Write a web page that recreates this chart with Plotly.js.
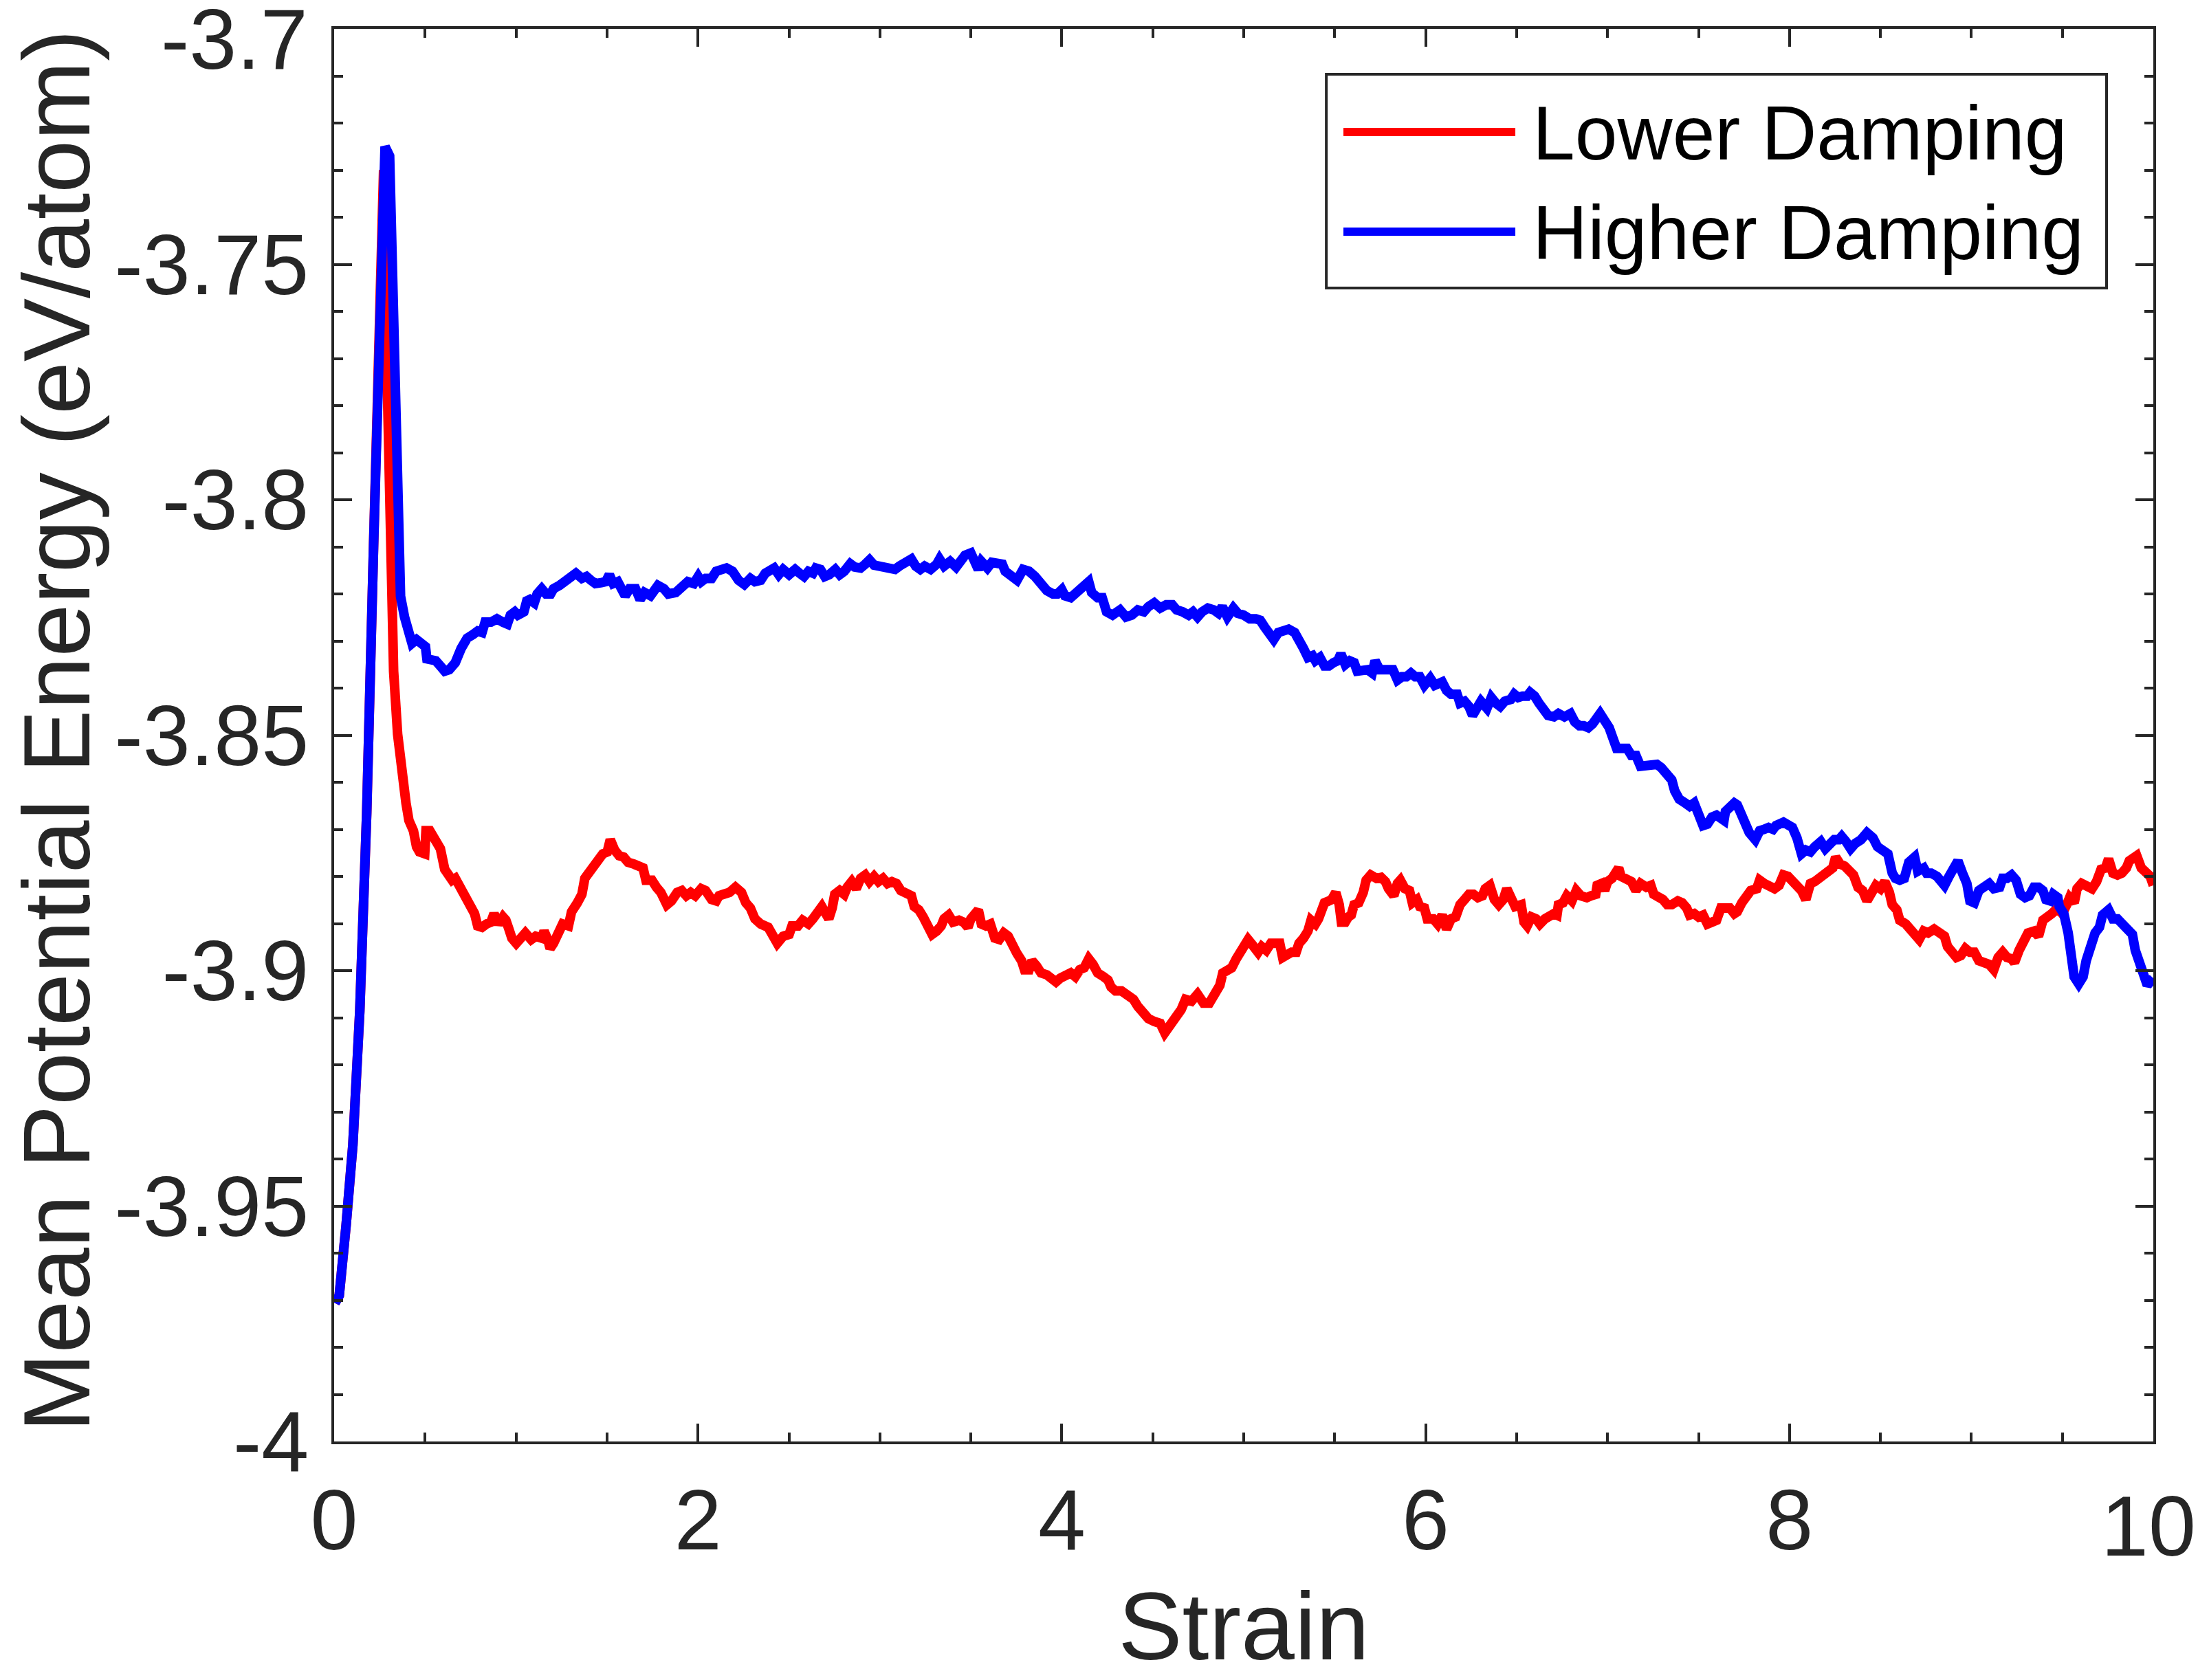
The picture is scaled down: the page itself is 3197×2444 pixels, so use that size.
<!DOCTYPE html>
<html>
<head>
<meta charset="utf-8">
<script src="https://cdn.plot.ly/plotly-3.0.1.min.js"></script>
<style>
html,body{margin:0;padding:0;background:#fff;}
#chart{width:3197px;height:2444px;}
</style>
</head>
<body>
<div id="chart"></div>
<script>
// ---- data ----
const seriesNames = ["Lower Damping", "Higher Damping"];
const seriesColors = ["#ff0000", "#0000ff"];

const strainLow = [0.005,0.028,0.066,0.103,0.141,0.179,0.217,0.248,0.272,0.285,0.292,0.302,0.311,0.327,0.349,0.371,0.395,0.411,0.436,0.453,0.469,0.498,0.505,0.526,0.551,0.584,0.608,0.625,0.649,0.666,0.682,0.698,0.731,0.756,0.772,0.789,0.813,0.838,0.862,0.879,0.903,0.928,0.944,0.961,0.977,1.001,1.026,1.051,1.083,1.108,1.141,1.154,1.174,1.187,1.206,1.231,1.256,1.288,1.305,1.337,1.362,1.378,1.411,1.436,1.452,1.477,1.501,1.518,1.542,1.567,1.592,1.616,1.649,1.682,1.698,1.714,1.747,1.772,1.796,1.829,1.854,1.886,1.911,1.936,1.960,1.985,2.018,2.042,2.075,2.100,2.116,2.140,2.173,2.206,2.239,2.263,2.288,2.313,2.345,2.386,2.411,2.436,2.468,2.501,2.517,2.550,2.575,2.607,2.632,2.656,2.681,2.697,2.719,2.738,2.752,2.779,2.804,2.820,2.845,2.870,2.894,2.919,2.943,2.968,2.992,3.017,3.042,3.066,3.091,3.115,3.148,3.173,3.189,3.214,3.238,3.263,3.287,3.312,3.337,3.353,3.378,3.402,3.435,3.460,3.484,3.500,3.525,3.541,3.558,3.582,3.607,3.632,3.656,3.681,3.705,3.730,3.754,3.779,3.795,3.820,3.836,3.861,3.886,3.918,3.943,3.968,3.992,4.017,4.049,4.074,4.099,4.123,4.148,4.172,4.197,4.230,4.254,4.271,4.295,4.328,4.361,4.394,4.418,4.443,4.476,4.508,4.541,4.566,4.590,4.623,4.656,4.680,4.713,4.746,4.779,4.811,4.836,4.869,4.885,4.910,4.934,4.959,4.992,5.024,5.049,5.079,5.099,5.124,5.149,5.173,5.198,5.214,5.239,5.263,5.288,5.304,5.329,5.353,5.370,5.394,5.411,5.427,5.444,5.468,5.484,5.506,5.525,5.537,5.558,5.575,5.591,5.607,5.632,5.657,5.673,5.698,5.730,5.755,5.779,5.796,5.825,5.845,5.861,5.886,5.911,5.927,5.952,5.968,5.993,6.009,6.042,6.066,6.091,6.115,6.140,6.165,6.189,6.214,6.238,6.263,6.287,6.312,6.328,6.353,6.378,6.402,6.427,6.446,6.468,6.492,6.525,6.541,6.558,6.582,6.607,6.628,6.656,6.681,6.705,6.722,6.730,6.755,6.776,6.804,6.828,6.853,6.886,6.910,6.935,6.943,6.968,6.984,7.000,7.025,7.041,7.061,7.074,7.107,7.131,7.156,7.181,7.213,7.238,7.254,7.279,7.304,7.328,7.353,7.386,7.410,7.435,7.451,7.476,7.500,7.525,7.549,7.574,7.599,7.623,7.648,7.672,7.697,7.713,7.738,7.762,7.787,7.820,7.836,7.861,7.894,7.918,7.943,7.967,7.992,8.016,8.041,8.066,8.090,8.115,8.139,8.164,8.189,8.213,8.238,8.254,8.279,8.303,8.328,8.352,8.377,8.402,8.426,8.451,8.475,8.500,8.524,8.549,8.565,8.590,8.606,8.639,8.664,8.688,8.713,8.738,8.762,8.795,8.828,8.852,8.869,8.893,8.918,8.942,8.967,8.992,9.016,9.041,9.065,9.098,9.123,9.147,9.172,9.196,9.221,9.237,9.262,9.287,9.311,9.344,9.369,9.393,9.418,9.442,9.475,9.500,9.524,9.540,9.565,9.581,9.606,9.639,9.663,9.688,9.713,9.737,9.754,9.778,9.803,9.827,9.852,9.868,9.893,9.909,9.934,9.958,9.983,10.000];
const energyLow = [-3.9706,-3.9690,-3.9540,-3.9370,-3.9086,-3.8666,-3.8096,-3.7576,-3.7300,-3.7626,-3.7790,-3.7995,-3.8163,-3.8364,-3.8498,-3.8584,-3.8644,-3.8681,-3.8703,-3.8737,-3.8748,-3.8752,-3.8703,-3.8703,-3.8718,-3.8741,-3.8785,-3.8797,-3.8808,-3.8804,-3.8815,-3.8834,-3.8849,-3.8867,-3.8879,-3.8905,-3.8908,-3.8901,-3.8897,-3.8879,-3.8901,-3.8886,-3.8893,-3.8912,-3.8931,-3.8942,-3.8931,-3.8920,-3.8934,-3.8927,-3.8931,-3.8916,-3.8934,-3.8953,-3.8942,-3.8920,-3.8901,-3.8905,-3.8875,-3.8856,-3.8838,-3.8804,-3.8785,-3.8774,-3.8763,-3.8752,-3.8748,-3.8722,-3.8744,-3.8756,-3.8759,-3.8770,-3.8774,-3.8782,-3.8782,-3.8808,-3.8808,-3.8823,-3.8834,-3.8860,-3.8852,-3.8834,-3.8830,-3.8841,-3.8834,-3.8841,-3.8826,-3.8830,-3.8849,-3.8852,-3.8841,-3.8838,-3.8834,-3.8823,-3.8834,-3.8856,-3.8867,-3.8890,-3.8901,-3.8908,-3.8927,-3.8942,-3.8927,-3.8923,-3.8905,-3.8905,-3.8893,-3.8901,-3.8890,-3.8879,-3.8864,-3.8875,-3.8890,-3.8867,-3.8838,-3.8830,-3.8838,-3.8823,-3.8811,-3.8826,-3.8804,-3.8797,-3.8811,-3.8800,-3.8811,-3.8804,-3.8815,-3.8811,-3.8815,-3.8830,-3.8834,-3.8841,-3.8864,-3.8871,-3.8886,-3.8912,-3.8923,-3.8916,-3.8905,-3.8890,-3.8882,-3.8897,-3.8893,-3.8897,-3.8908,-3.8890,-3.8879,-3.8871,-3.8901,-3.8905,-3.8901,-3.8931,-3.8934,-3.8920,-3.8927,-3.8949,-3.8964,-3.8979,-3.8998,-3.8998,-3.8979,-3.8990,-3.9005,-3.9009,-3.9016,-3.9024,-3.9016,-3.9009,-3.9005,-3.9013,-3.8998,-3.8994,-3.8975,-3.8987,-3.9005,-3.9013,-3.9020,-3.9035,-3.9043,-3.9043,-3.9050,-3.9061,-3.9076,-3.9091,-3.9102,-3.9108,-3.9112,-3.9132,-3.9121,-3.9102,-3.9083,-3.9061,-3.9065,-3.9050,-3.9069,-3.9069,-3.9054,-3.9031,-3.9005,-3.8998,-3.8994,-3.8975,-3.8949,-3.8934,-3.8946,-3.8961,-3.8949,-3.8957,-3.8942,-3.8942,-3.8942,-3.8972,-3.8964,-3.8961,-3.8961,-3.8942,-3.8931,-3.8916,-3.8893,-3.8901,-3.8890,-3.8867,-3.8856,-3.8852,-3.8849,-3.8834,-3.8860,-3.8897,-3.8897,-3.8886,-3.8882,-3.8860,-3.8856,-3.8834,-3.8808,-3.8797,-3.8804,-3.8802,-3.8811,-3.8826,-3.8841,-3.8815,-3.8808,-3.8826,-3.8830,-3.8856,-3.8849,-3.8864,-3.8867,-3.8890,-3.8890,-3.8901,-3.8882,-3.8912,-3.8890,-3.8886,-3.8860,-3.8849,-3.8838,-3.8838,-3.8845,-3.8841,-3.8826,-3.8819,-3.8849,-3.8860,-3.8849,-3.8826,-3.8852,-3.8864,-3.8860,-3.8897,-3.8905,-3.8886,-3.8890,-3.8901,-3.8890,-3.8882,-3.8879,-3.8882,-3.8860,-3.8856,-3.8841,-3.8852,-3.8830,-3.8841,-3.8845,-3.8841,-3.8838,-3.8819,-3.8815,-3.8830,-3.8811,-3.8804,-3.8793,-3.8782,-3.8800,-3.8808,-3.8811,-3.8830,-3.8815,-3.8823,-3.8819,-3.8838,-3.8841,-3.8849,-3.8860,-3.8860,-3.8852,-3.8856,-3.8867,-3.8882,-3.8879,-3.8886,-3.8882,-3.8901,-3.8897,-3.8893,-3.8867,-3.8867,-3.8867,-3.8879,-3.8875,-3.8856,-3.8838,-3.8830,-3.8826,-3.8808,-3.8815,-3.8823,-3.8826,-3.8819,-3.8797,-3.8800,-3.8808,-3.8819,-3.8830,-3.8849,-3.8815,-3.8811,-3.8804,-3.8800,-3.8789,-3.8782,-3.8759,-3.8774,-3.8778,-3.8785,-3.8797,-3.8823,-3.8830,-3.8852,-3.8830,-3.8819,-3.8826,-3.8811,-3.8834,-3.8860,-3.8871,-3.8893,-3.8901,-3.8912,-3.8927,-3.8934,-3.8916,-3.8920,-3.8912,-3.8920,-3.8927,-3.8949,-3.8957,-3.8972,-3.8968,-3.8953,-3.8961,-3.8961,-3.8979,-3.8983,-3.8987,-3.8998,-3.8972,-3.8961,-3.8972,-3.8975,-3.8983,-3.8957,-3.8942,-3.8920,-3.8916,-3.8927,-3.8893,-3.8882,-3.8879,-3.8867,-3.8879,-3.8860,-3.8845,-3.8856,-3.8826,-3.8815,-3.8823,-3.8826,-3.8811,-3.8785,-3.8782,-3.8763,-3.8793,-3.8797,-3.8793,-3.8782,-3.8767,-3.8763,-3.8756,-3.8782,-3.8789,-3.8800,-3.8819];

const strainHigh = [0.005,0.028,0.066,0.103,0.141,0.179,0.217,0.248,0.280,0.305,0.320,0.330,0.343,0.355,0.365,0.387,0.412,0.428,0.453,0.477,0.502,0.510,0.535,0.559,0.584,0.608,0.633,0.666,0.698,0.731,0.764,0.789,0.813,0.830,0.862,0.895,0.928,0.952,0.969,0.993,1.010,1.043,1.059,1.075,1.100,1.116,1.141,1.165,1.190,1.206,1.239,1.272,1.297,1.329,1.362,1.387,1.411,1.436,1.469,1.493,1.513,1.534,1.559,1.575,1.600,1.624,1.657,1.682,1.706,1.739,1.755,1.780,1.813,1.837,1.878,1.911,1.944,1.977,2.001,2.018,2.042,2.075,2.100,2.132,2.157,2.190,2.223,2.255,2.288,2.313,2.345,2.370,2.403,2.419,2.444,2.468,2.501,2.534,2.558,2.583,2.607,2.632,2.648,2.673,2.697,2.722,2.755,2.779,2.804,2.837,2.861,2.894,2.919,2.943,2.968,3.001,3.033,3.058,3.083,3.107,3.140,3.173,3.197,3.222,3.246,3.279,3.312,3.328,3.353,3.386,3.419,3.443,3.468,3.500,3.525,3.541,3.558,3.591,3.615,3.640,3.673,3.689,3.722,3.754,3.787,3.820,3.853,3.886,3.918,3.951,3.976,4.000,4.017,4.049,4.082,4.107,4.148,4.164,4.197,4.222,4.246,4.279,4.320,4.353,4.385,4.418,4.451,4.476,4.508,4.541,4.574,4.607,4.631,4.664,4.697,4.721,4.746,4.771,4.803,4.836,4.861,4.882,4.910,4.943,4.967,5.000,5.033,5.067,5.091,5.116,5.140,5.165,5.190,5.214,5.247,5.280,5.304,5.329,5.353,5.378,5.394,5.419,5.444,5.468,5.493,5.517,5.534,5.558,5.583,5.607,5.624,5.648,5.681,5.706,5.722,5.747,5.771,5.796,5.820,5.845,5.870,5.894,5.919,5.943,5.968,5.993,6.025,6.050,6.074,6.091,6.115,6.140,6.173,6.189,6.214,6.238,6.258,6.279,6.304,6.337,6.361,6.386,6.410,6.435,6.468,6.487,6.509,6.533,6.558,6.574,6.599,6.623,6.648,6.673,6.705,6.730,6.763,6.796,6.820,6.845,6.869,6.894,6.918,6.943,6.959,6.984,7.009,7.033,7.050,7.082,7.107,7.131,7.156,7.181,7.205,7.238,7.271,7.295,7.320,7.353,7.369,7.394,7.426,7.451,7.476,7.500,7.525,7.549,7.574,7.599,7.615,7.640,7.648,7.672,7.697,7.713,7.738,7.754,7.779,7.812,7.836,7.861,7.885,7.910,7.926,7.967,7.992,8.016,8.041,8.066,8.090,8.115,8.139,8.172,8.197,8.221,8.246,8.271,8.287,8.311,8.336,8.361,8.393,8.426,8.459,8.484,8.508,8.541,8.565,8.582,8.606,8.631,8.656,8.688,8.705,8.738,8.754,8.779,8.811,8.836,8.852,8.877,8.901,8.926,8.951,8.975,8.992,9.016,9.041,9.073,9.098,9.123,9.155,9.172,9.196,9.221,9.246,9.270,9.295,9.319,9.344,9.369,9.393,9.410,9.434,9.450,9.475,9.483,9.508,9.532,9.549,9.565,9.590,9.614,9.631,9.647,9.680,9.704,9.721,9.754,9.778,9.803,9.836,9.868,9.885,9.901,9.926,9.942,9.967,9.991,10.000];
const energyHigh = [-3.9706,-3.9690,-3.9540,-3.9370,-3.9086,-3.8666,-3.8096,-3.7576,-3.7250,-3.7270,-3.7490,-3.7790,-3.8010,-3.8150,-3.8205,-3.8249,-3.8294,-3.8305,-3.8297,-3.8308,-3.8312,-3.8338,-3.8342,-3.8342,-3.8353,-3.8364,-3.8361,-3.8346,-3.8316,-3.8294,-3.8286,-3.8279,-3.8282,-3.8260,-3.8260,-3.8253,-3.8260,-3.8264,-3.8245,-3.8238,-3.8245,-3.8238,-3.8215,-3.8212,-3.8219,-3.8200,-3.8189,-3.8200,-3.8200,-3.8189,-3.8182,-3.8174,-3.8163,-3.8156,-3.8167,-3.8163,-3.8171,-3.8178,-3.8176,-3.8174,-3.8159,-3.8178,-3.8174,-3.8189,-3.8204,-3.8189,-3.8189,-3.8212,-3.8197,-3.8204,-3.8193,-3.8182,-3.8189,-3.8200,-3.8197,-3.8186,-3.8174,-3.8178,-3.8163,-3.8174,-3.8167,-3.8167,-3.8152,-3.8148,-3.8145,-3.8152,-3.8171,-3.8180,-3.8167,-3.8174,-3.8171,-3.8156,-3.8148,-3.8145,-3.8159,-3.8148,-3.8159,-3.8148,-3.8156,-3.8163,-3.8152,-3.8156,-3.8145,-3.8148,-3.8163,-3.8159,-3.8148,-3.8159,-3.8152,-3.8136,-3.8143,-3.8145,-3.8137,-3.8128,-3.8139,-3.8141,-3.8143,-3.8148,-3.8148,-3.8141,-3.8136,-3.8126,-3.8141,-3.8148,-3.8141,-3.8148,-3.8137,-3.8126,-3.8141,-3.8131,-3.8143,-3.8130,-3.8118,-3.8113,-3.8130,-3.8148,-3.8131,-3.8145,-3.8133,-3.8137,-3.8137,-3.8152,-3.8163,-3.8171,-3.8148,-3.8152,-3.8163,-3.8178,-3.8193,-3.8200,-3.8200,-3.8191,-3.8204,-3.8208,-3.8197,-3.8182,-3.8174,-3.8197,-3.8208,-3.8208,-3.8238,-3.8245,-3.8234,-3.8249,-3.8245,-3.8234,-3.8238,-3.8227,-3.8219,-3.8230,-3.8223,-3.8223,-3.8234,-3.8238,-3.8245,-3.8238,-3.8249,-3.8238,-3.8230,-3.8234,-3.8241,-3.8227,-3.8249,-3.8230,-3.8241,-3.8245,-3.8253,-3.8253,-3.8256,-3.8271,-3.8286,-3.8297,-3.8282,-3.8279,-3.8275,-3.8282,-3.8305,-3.8316,-3.8335,-3.8331,-3.8342,-3.8335,-3.8353,-3.8353,-3.8346,-3.8342,-3.8327,-3.8350,-3.8342,-3.8346,-3.8364,-3.8361,-3.8361,-3.8368,-3.8342,-3.8361,-3.8361,-3.8364,-3.8361,-3.8383,-3.8376,-3.8376,-3.8368,-3.8376,-3.8376,-3.8394,-3.8379,-3.8394,-3.8390,-3.8387,-3.8405,-3.8413,-3.8413,-3.8432,-3.8428,-3.8439,-3.8458,-3.8446,-3.8428,-3.8443,-3.8420,-3.8432,-3.8439,-3.8428,-3.8424,-3.8413,-3.8420,-3.8417,-3.8417,-3.8409,-3.8417,-3.8432,-3.8450,-3.8458,-3.8461,-3.8454,-3.8461,-3.8454,-3.8472,-3.8480,-3.8480,-3.8484,-3.8476,-3.8461,-3.8454,-3.8469,-3.8484,-3.8510,-3.8528,-3.8528,-3.8528,-3.8543,-3.8543,-3.8566,-3.8566,-3.8566,-3.8562,-3.8569,-3.8580,-3.8595,-3.8618,-3.8636,-3.8644,-3.8651,-3.8644,-3.8670,-3.8692,-3.8689,-3.8674,-3.8670,-3.8677,-3.8681,-3.8662,-3.8655,-3.8644,-3.8648,-3.8670,-3.8696,-3.8707,-3.8722,-3.8703,-3.8700,-3.8696,-3.8700,-3.8692,-3.8685,-3.8692,-3.8696,-3.8718,-3.8752,-3.8744,-3.8748,-3.8737,-3.8726,-3.8741,-3.8730,-3.8722,-3.8722,-3.8715,-3.8726,-3.8741,-3.8730,-3.8722,-3.8707,-3.8718,-3.8737,-3.8744,-3.8752,-3.8793,-3.8804,-3.8808,-3.8804,-3.8770,-3.8759,-3.8789,-3.8782,-3.8793,-3.8793,-3.8800,-3.8815,-3.8819,-3.8800,-3.8782,-3.8767,-3.8793,-3.8815,-3.8852,-3.8856,-3.8830,-3.8823,-3.8815,-3.8826,-3.8823,-3.8804,-3.8804,-3.8797,-3.8808,-3.8838,-3.8845,-3.8841,-3.8823,-3.8823,-3.8830,-3.8849,-3.8852,-3.8838,-3.8845,-3.8864,-3.8879,-3.8920,-3.8972,-3.9013,-3.9028,-3.9013,-3.8979,-3.8957,-3.8920,-3.8908,-3.8882,-3.8871,-3.8890,-3.8890,-3.8905,-3.8912,-3.8923,-3.8957,-3.8987,-3.9016,-3.9031,-3.9020,-3.9016];

const xTickVals = [0, 2, 4, 6, 8, 10];
const xTickText = ["0", "2", "4", "6", "8", "10"];
const yTickVals = [-4, -3.95, -3.9, -3.85, -3.8, -3.75, -3.7];
const yTickText = ["-4", "-3.95", "-3.9", "-3.85", "-3.8", "-3.75", "-3.7"];
const xTitle = "Strain";
const yTitle = "Mean Potential Energy (eV/atom)";

// ---- styling ----
const FONT = "Liberation Sans, Arial, Helvetica, sans-serif";
const INK = "#262626";
const LW = 14;
const TICKSIZE = 124;

const traces = [
  {x: strainLow, y: energyLow, name: seriesNames[0], type: "scatter", mode: "lines",
   line: {color: seriesColors[0], width: LW}, showlegend: false},
  {x: strainHigh, y: energyHigh, name: seriesNames[1], type: "scatter", mode: "lines",
   line: {color: seriesColors[1], width: LW}, showlegend: false}
];

// the outermost labels are nudged inward (as in the reference) and drawn as annotations
const lastX = xTickVals.length - 1, lastY = yTickVals.length - 1;
const xTickTextAxis = xTickText.map((t, i) => i === lastX ? "" : t);
const yTickTextAxis = yTickText.map((t, i) => i === lastY ? "" : t);

const axisCommon = {
  showline: true, linecolor: INK, linewidth: 4, mirror: "allticks",
  ticks: "inside", tickcolor: INK, tickwidth: 4, ticklen: 26,
  showgrid: false, zeroline: false, automargin: false,
  tickfont: {family: FONT, size: TICKSIZE, color: INK},
  tickmode: "array", ticklabeloverflow: "allow"
};

// custom legend (box + sample lines + labels), in paper coordinates
const legX0 = 0.5454, legX1 = 0.9743, legY0 = 0.8165, legY1 = 0.9679;
const rowY = [0.926, 0.8555];
const lineX0 = 0.5548, lineX1 = 0.6493, textX = 0.658;

const shapes = [
  {type: "rect", xref: "paper", yref: "paper", x0: legX0, x1: legX1, y0: legY0, y1: legY1,
   line: {color: INK, width: 4}, fillcolor: "#ffffff", layer: "above"}
];
const annotations = [];
for (let i = 0; i < seriesNames.length; i++) {
  shapes.push({type: "line", xref: "paper", yref: "paper", x0: lineX0, x1: lineX1,
    y0: rowY[i] + 0.001, y1: rowY[i] + 0.001, line: {color: seriesColors[i], width: 12}, layer: "above"});
  annotations.push({xref: "paper", yref: "paper", x: textX, y: rowY[i], xanchor: "left",
    yanchor: "middle", showarrow: false, text: seriesNames[i],
    font: {family: FONT, size: 111, color: "#000000"}});
}
// end tick labels
annotations.push({xref: "x", yref: "paper", x: xTickVals[lastX], y: 0, xanchor: "center", yanchor: "middle",
  xshift: -7, yshift: -123, showarrow: false, text: xTickText[lastX],
  font: {family: FONT, size: TICKSIZE, color: INK}});
annotations.push({xref: "paper", yref: "y", x: 0, y: yTickVals[lastY], xanchor: "right", yanchor: "middle",
  xshift: -36, yshift: -15, showarrow: false, text: yTickText[lastY],
  font: {family: FONT, size: TICKSIZE, color: INK}});
// y-axis title (rotated text)
annotations.push({xref: "paper", yref: "paper", x: 0, y: 0.503, xanchor: "center", yanchor: "middle",
  xshift: -404, showarrow: false, textangle: -90, text: yTitle,
  font: {family: FONT, size: 138, color: INK}});

const layout = {
  width: 3197, height: 2444,
  margin: {l: 486, r: 65, t: 42, b: 347, pad: 0},
  paper_bgcolor: "#ffffff", plot_bgcolor: "#ffffff",
  font: {family: FONT, color: INK},
  showlegend: false,
  xaxis: Object.assign({}, axisCommon, {
    range: [0, 10], tickvals: xTickVals, ticktext: xTickTextAxis,
    minor: {tickmode: "linear", tick0: 0, dtick: 0.5, ticks: "inside", ticklen: 13, tickwidth: 4, tickcolor: INK},
    ticklabelstandoff: 4,
    title: {text: xTitle, font: {family: FONT, size: 140, color: INK}, standoff: 76}
  }),
  yaxis: Object.assign({}, axisCommon, {
    range: [-4, -3.7], tickvals: yTickVals, ticktext: yTickTextAxis,
    minor: {tickmode: "linear", tick0: -4, dtick: 0.01, ticks: "inside", ticklen: 13, tickwidth: 4, tickcolor: INK},
    ticklabelstandoff: 8
  }),
  shapes: shapes,
  annotations: annotations
};

Plotly.newPlot("chart", traces, layout, {displayModeBar: false, staticPlot: true});
</script>
</body>
</html>
